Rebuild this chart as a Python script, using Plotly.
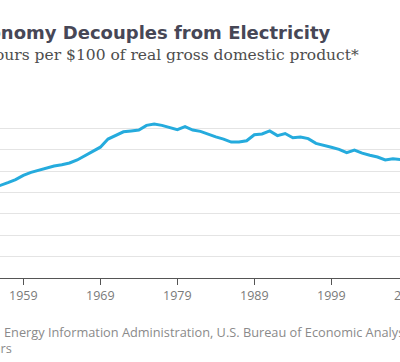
import plotly.graph_objects as go

years = list(range(1955, 2009))
kwh_per_100 = [
    21.0, 21.6, 22.3, 23.0, 24.0, 24.7, 25.2, 25.7, 26.2, 26.5,
    26.9, 27.6, 28.6, 29.6, 30.6, 32.5, 33.4, 34.2, 34.4, 34.6,
    35.7, 36.0, 35.7, 35.2, 34.7, 35.4, 34.6, 34.3, 33.6, 33.0,
    32.5, 31.8, 31.8, 32.1, 33.5, 33.7, 34.4, 33.3, 33.8, 32.8,
    33.0, 32.6, 31.5, 31.1, 30.6, 30.1, 29.3, 29.9, 29.2, 28.7,
    28.3, 27.6, 27.9, 27.7,
]
tick_years = [1949, 1959, 1969, 1979, 1989, 1999, 2009]
y_ticks = [0, 5, 10, 15, 20, 25, 30, 35, 40]

title = "U.S. Economy Decouples from Electricity"
subtitle = "Kilowatt-hours per $100 of real gross domestic product*"
source_a = "Source: U.S. "
source_b = "Energy Information Administration, U.S. Bureau of Economic Analysis"
note = "*In chained 2009 dollars"

fig = go.Figure()
fig.add_trace(go.Scatter(
    x=years, y=kwh_per_100, mode="lines",
    line=dict(color="#25abdd", width=3), hoverinfo="skip",
))

W, H = 440, 362
top, bottom = 107.0, 277.7
px_per_year = 7.7
x0_year = 1955.97

def py(ypix):
    return (bottom - ypix) / (bottom - top)

def pxf(xpix):
    return xpix / W

fig.update_layout(
    width=W, height=H,
    margin=dict(l=0, r=0, t=top, b=H - bottom, pad=0),
    plot_bgcolor="white", paper_bgcolor="white",
    showlegend=False,
    xaxis=dict(
        range=[x0_year, x0_year + W / px_per_year], tickvals=tick_years,
        ticktext=[str(t) for t in tick_years],
        showgrid=False, zeroline=False,
        showline=True, linecolor="#555555", linewidth=1,
        ticks="outside", ticklen=6, tickcolor="#555555", tickwidth=1,
        tickfont=dict(family="Open Sans", size=12.5, color="#7a7a7a"),
    ),
    yaxis=dict(
        range=[0, 40], tickvals=y_ticks, showticklabels=False,
        showgrid=True, gridcolor="#e4e4e4", gridwidth=1,
        zeroline=False, showline=False, ticks="",
    ),
    annotations=[
        dict(text=f"<b>{title}</b>", xref="paper", yref="paper",
             x=pxf(333), y=py(33), xanchor="right", yanchor="middle",
             showarrow=False,
             font=dict(family="DejaVu Sans", size=18, color="#474756")),
        dict(text=subtitle, xref="paper", yref="paper",
             x=pxf(361), y=py(55), xanchor="right", yanchor="middle",
             showarrow=False,
             font=dict(family="DejaVu Serif", size=15.5, color="#4d4d4d")),
        dict(text=source_a, xref="paper", yref="paper",
             x=pxf(2), y=py(332), xanchor="right", yanchor="middle",
             showarrow=False,
             font=dict(family="Open Sans", size=12.75, color="#8a8a8a")),
        dict(text=source_b, xref="paper", yref="paper",
             x=pxf(2), y=py(332), xanchor="left", yanchor="middle",
             showarrow=False,
             font=dict(family="Open Sans", size=12.75, color="#8a8a8a")),
        dict(text=note, xref="paper", yref="paper",
             x=pxf(14), y=py(347.5), xanchor="right", yanchor="middle",
             showarrow=False,
             font=dict(family="Open Sans", size=12.75, color="#8a8a8a")),
    ],
)

fig.write_html(
    "out.html",
    config={"displayModeBar": False, "staticPlot": True},
    post_script=(
        "document.body.style.margin='0';"
        "document.body.style.overflow='hidden';"
        "document.documentElement.style.overflow='hidden';"
    ),
)
